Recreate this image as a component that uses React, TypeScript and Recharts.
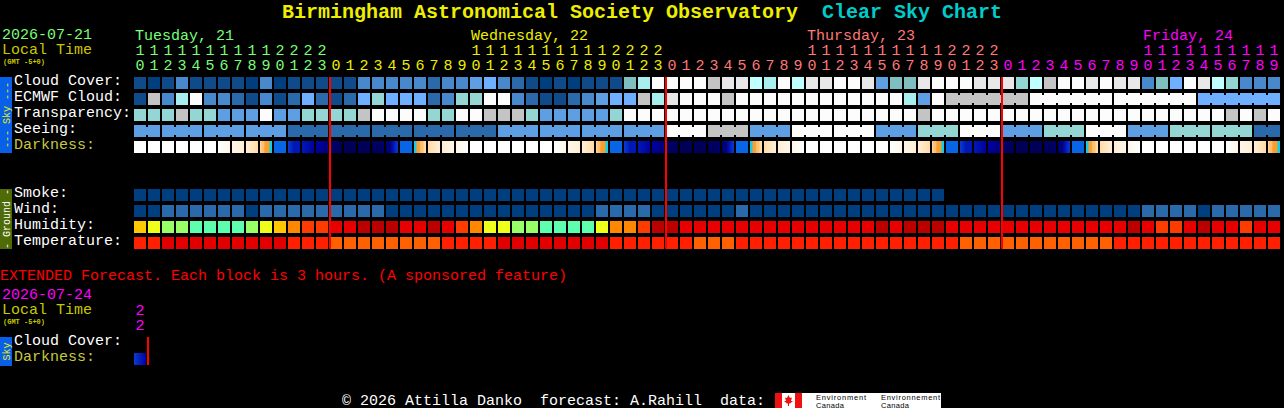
import React from "react";
import { BarChart, Bar, XAxis, YAxis, ReferenceLine } from "recharts";

const W = 1284;
const H = 408;
const FONT = "'Liberation Mono', monospace";

// ---------- colour scales ----------
const skyScale = ["#003f7f", "#0f4a8a", "#2a6aaa", "#4888cc", "#5e9ee2", "#6fafff", "#7fbfbf", "#94d6d4", "#a8eeee", "#bfffff", "#fcfcfc", "#e8e8e8", "#c4c4c4"];
const humidityScale = ["#bb0000", "#e80000", "#ff3c00", "#ff8800", "#ffc800", "#eeff1a", "#99ff66", "#5dffaf"];
const temperatureScale = ["#e00000", "#ff2000", "#ff6000"];
const darknessScale = ["#ffffff", "#fff6e8", "#ffeed6", "#ffdca8", "#ffc070", "#ff9c30", "#10d0e8", "#0866e6", "#0a3cd0", "#0018b8", "#0000a0", "#000080", "#000068", "#000058"];

// ---------- hours ----------
const startHour = 10;
const hours = [10,11,12,13,14,15,16,17,18,19,20,21,22,23,
  0,1,2,3,4,5,6,7,8,9,10,11,12,13,14,15,16,17,18,19,20,21,22,23,
  0,1,2,3,4,5,6,7,8,9,10,11,12,13,14,15,16,17,18,19,20,21,22,23,
  0,1,2,3,4,5,6,7,8,9,10,11,12,13,14,15,16,17,18,19];
const dayIndex = [0,0,0,0,0,0,0,0,0,0,0,0,0,0,
  1,1,1,1,1,1,1,1,1,1,1,1,1,1,1,1,1,1,1,1,1,1,1,1,
  2,2,2,2,2,2,2,2,2,2,2,2,2,2,2,2,2,2,2,2,2,2,2,2,
  3,3,3,3,3,3,3,3,3,3,3,3,3,3,3,3,3,3,3,3];
const dayNames = ["Tuesday, 21", "Wednesday, 22", "Thursday, 23", "Friday, 24"];
const dayColors = ["#78ff78", "#eeee00", "#ff7878", "#ff00ff"];

// ---------- rows ----------
const cloudCover = [1,0,1,3,1,1,1,1,0,3,0,1,1,1,1,1,3,3,3,3,3,
  2,3,3,4,5,3,2,1,0,1,0,1,1,1,6,8,10,10,10,10,12,11,11,9,8,10,9,11,11,10,10,
  11,4,6,6,11,10,10,10,11,11,11,7,9,12,10,10,11,10,11,11,3,6,5,10,11,9,7,3,3,3];
const ecmwfCloud = [1,12,3,8,10,3,3,2,1,3,1,2,5,2,1,2,5,7,5,5,5,
  2,3,7,7,10,10,3,2,1,1,2,3,4,5,5,12,8,11,10,10,10,12,10,10,10,10,10,10,10,10,10,
  10,10,10,8,4,10,12,12,12,12,12,12,10,10,10,10,10,10,10,10,10,10,10,10,5,5,5,5,5,5];
const ecmwfBlockSizes = [1,1,1,1,1,1,1,1,1,1,1,1,1,1,1,1,1,1,1,1,1,1,1,1,1,1,1,1,1,1,1,1,1,1,1,1,1,1,1,1,1,1,1,1,1,1,1,1,1,1,1,1,1,1,1,1,1,1,6,6,6,6];
const transparency = [7,7,7,12,7,7,4,4,4,10,4,4,7,7,7,7,12,10,10,10,10,
  7,7,10,10,12,12,12,7,4,4,4,4,4,7,10,10,10,10,10,10,10,10,10,10,10,10,10,10,10,10,10,
  10,10,10,10,12,10,10,10,10,10,10,10,10,10,10,10,10,10,10,10,10,10,10,10,10,10,12,10,12,10];
const seeingBlockSizes = [2,3,3,3,3,3,3,3,3,3,3,3,3,3,3,3,3,3,3,3,3,3,3,3,3,3,3,2];
const seeingBlockLevels = [4,4,4,4,2,2,2,2,2,4,4,4,4,10,12,4,10,10,4,7,10,4,7,10,4,7,7,2];
const darkness = [[0],[0],[0],[0],[0],[0],[0,1],[1,2],[2,3],[3,4,4,5,5,5,6,6],
  [7],[8,9,9],[9,10],[10,11],[12,13],[13],[13],[13,12],[12,11,9,8],[7],[6,6,5,5,4,4,3,3],[3,2],[2,1],[1,0],
  [0],[0],[0],[0],[0],[0],[0,1],[1,2],[2,3],[3,4,4,5,5,5,6,6],
  [7],[8,9,9],[9,10],[10,11],[12,13],[13],[13],[13,12],[12,11,9,8],[7],[6,6,5,5,4,4,3,3],[3,2],[2,1],[1,0],
  [0],[0],[0],[0],[0],[0],[0,1],[1,2],[2,3],[3,4,4,5,5,5,6,6],
  [7],[8,9,9],[9,10],[10,11],[12,13],[13],[13],[13,12],[12,11,9,8],[7],[6,6,5,5,4,4,3,3],[3,2],[2,1],[1,0],
  [0],[0],[0],[0],[0],[0],[0,1],[1,2],[2,3],[3,4,4,5,5,5,6,6]];
const smoke = [0,0,0,0,0,0,0,0,0,0,0,0,0,0,0,0,0,0,0,0,0,0,0,0,0,0,0,0,0,0,0,0,0,0,0,0,0,0,0,0,0,0,0,0,0,0,0,0,0,0,0,0,0,0,0,0,0,0];
const wind = [0,0,2,2,2,2,2,2,0,2,2,2,2,2,2,2,2,2,0,0,0,
  0,0,0,0,0,0,0,0,0,0,0,0,2,2,2,2,0,0,0,0,0,0,2,0,0,0,0,0,0,0,0,
  0,0,0,0,0,0,0,0,0,0,0,0,0,0,0,0,0,0,0,0,2,2,2,2,0,2,2,2,2,2];
const humidity = [4,5,6,6,7,7,7,7,6,5,4,3,2,2,1,1,0,0,0,1,1,
  0,1,2,3,5,5,6,6,7,7,7,7,5,3,3,2,0,0,1,1,1,1,1,1,1,1,1,1,1,1,1,
  1,0,1,0,0,0,1,1,1,1,1,1,1,1,1,1,1,1,1,0,1,2,2,1,0,1,1,2,1,1];
const temperature = [1,1,0,0,0,0,0,0,0,0,0,1,1,1,2,2,2,2,2,2,2,
  2,1,1,1,1,0,0,0,0,0,0,0,0,1,1,1,1,1,1,2,2,2,1,1,1,1,1,1,1,1,1,
  1,1,1,1,1,1,1,2,2,2,2,2,2,2,2,2,2,2,1,1,1,1,1,1,1,1,1,1,1,1];

// extended forecast
const extendedHours = [22];
const extendedDay = [3];
const extendedDarkness = [[8,10]];

const rowLabels = ["Cloud Cover:", "ECMWF Cloud:", "Transparency:", "Seeing:", "Darkness:", "", "", "Smoke:", "Wind:", "Humidity:", "Temperature:"];
const extendedLabels = ["Cloud Cover:", "Darkness:"];
const dayStarts = [14, 38, 62];

const expand = (sizes: number[], values: number[]) => sizes.flatMap((s, i) => Array(s).fill(values[i]));
const joins = (sizes: number[]) => sizes.flatMap((s) => Array.from({ length: s }, (_, i) => i < s - 1));
const seeing = expand(seeingBlockSizes, seeingBlockLevels);
const seeingJoin = joins(seeingBlockSizes);
const ecmwfJoin = joins(ecmwfBlockSizes);

const table = hours.map((hour, i) => ({
  key: "c" + i,
  hour,
  day: dayIndex[i],
  cloud: cloudCover[i],
  ecmwf: ecmwfCloud[i],
  ecmwfJoin: ecmwfJoin[i],
  transparency: transparency[i],
  seeing: seeing[i],
  seeingJoin: seeingJoin[i],
  darkness: darkness[i],
  smoke: smoke[i] ?? null,
  wind: wind[i],
  humidity: humidity[i],
  temperature: temperature[i],
}));
const extendedTable = extendedHours.map((hour, i) => ({
  key: "e" + i,
  hour,
  day: extendedDay[i],
  darkness: extendedDarkness[i],
}));

type Row = { field: string; row: number; scale?: string[]; join?: string; stops?: boolean };
const mainRows: Row[] = [
  { field: "cloud", row: 0, scale: skyScale },
  { field: "ecmwf", row: 1, scale: skyScale, join: "ecmwfJoin" },
  { field: "transparency", row: 2, scale: skyScale },
  { field: "seeing", row: 3, scale: skyScale, join: "seeingJoin" },
  { field: "darkness", row: 4, stops: true },
  { field: "smoke", row: 7, scale: skyScale },
  { field: "wind", row: 8, scale: skyScale },
  { field: "humidity", row: 9, scale: humidityScale },
  { field: "temperature", row: 10, scale: temperatureScale },
];
const extendedRows: Row[] = [{ field: "darkness", row: 1, stops: true }];

function Block(props: any) {
  const { x, y, width, height, payload, index, spec, prefix } = props;
  const value = payload?.[spec.field];
  if (value == null || !isFinite(y) || !isFinite(height)) return null;
  const top = Math.min(y, y + height);
  const h = Math.abs(height);
  if (spec.stops) {
    const id = `${prefix}-${index}`;
    return (
      <g>
        <defs>
          <linearGradient id={id} x1="0" y1="0" x2="1" y2="0">
            {value.length === 1 ? (
              <stop offset="0" stopColor={darknessScale[value[0]]} />
            ) : (
              value.map((lv: number, k: number) => (
                <stop key={k} offset={k / (value.length - 1)} stopColor={darknessScale[lv]} />
              ))
            )}
          </linearGradient>
        </defs>
        <rect x={x} y={top} width={width} height={h} fill={`url(#${id})`} />
      </g>
    );
  }
  const fill = spec.scale[value];
  const joined = spec.join && payload[spec.join];
  return (
    <g>
      <rect x={x} y={top} width={width} height={h} fill={fill} />
      {joined ? <rect x={x + width} y={top + 2} width={2} height={h - 4} fill={fill} /> : null}
    </g>
  );
}

function HourTick(props: any) {
  const { x, payload, rows, top } = props;
  const d = rows.find((r: any) => r.key === payload.value);
  if (!d) return null;
  const color = dayColors[d.day];
  const tens = Math.floor(d.hour / 10);
  return (
    <g fontFamily={FONT} fontSize={15} fill={color}>
      {d.hour === startHour && rows.length > 1 ? (
        <text x={x - 5} y={top - 37} textAnchor="start">{dayNames[d.day]}</text>
      ) : null}
      {tens > 0 ? <text x={x} y={top - 22} textAnchor="middle">{tens}</text> : null}
      <text x={x} y={top - 7} textAnchor="middle">{d.hour % 10}</text>
    </g>
  );
}

function RowTick(props: any) {
  const { y, payload, labels } = props;
  const label = labels[Math.floor(payload.value)];
  return (
    <text x={14} y={y + 2} fontFamily={FONT} fontSize={15} fill={label === "Darkness:" ? "#c8c83c" : "#ffffff"}>
      {label}
    </text>
  );
}

function RedLine(props: any) {
  const { x1, y1, y2 } = props;
  return <line x1={x1 + 1} x2={x1 + 1} y1={y1} y2={y2} stroke="#ff0000" strokeWidth={2} />;
}

function Grid({ data, rows, labels, top, domainMax, right, lineAt, linePos, prefix }: any) {
  const height = domainMax * 16;
  const labelTicks = labels.map((l: string, i: number) => (l ? i + 0.375 : null)).filter((v: any) => v != null);
  return (
    <div style={{ position: "absolute", left: 0, top: 0 }}>
      <BarChart
        width={W}
        height={H}
        data={data}
        margin={{ top: top - 1, bottom: H - top - height, left: 0, right }}
        barSize={12}
        barGap={-12}
        barCategoryGap={0}
      >
        <XAxis
          dataKey="key"
          type="category"
          orientation="top"
          height={1}
          interval={0}
          axisLine={false}
          tickLine={false}
          tick={(p: any) => <HourTick {...p} rows={data} top={top} />}
        />
        <YAxis
          type="number"
          domain={[0, domainMax]}
          reversed
          width={133}
          ticks={labelTicks}
          interval={0}
          axisLine={false}
          tickLine={false}
          tick={(p: any) => <RowTick {...p} labels={labels} />}
        />
        {rows.map((spec: Row) => (
          <Bar
            key={spec.field}
            dataKey={(d: any) => (d[spec.field] == null ? null : [spec.row, spec.row + 0.75])}
            isAnimationActive={false}
            shape={(p: any) => <Block {...p} spec={spec} prefix={prefix + spec.field} />}
          />
        ))}
        {lineAt.map((k: string) => (
          <ReferenceLine key={k} x={k} position={linePos} shape={RedLine} />
        ))}
      </BarChart>
    </div>
  );
}

function Side({ y, h, fill, color, text }: any) {
  const cy = y + h / 2;
  return (
    <g>
      <rect x={0} y={y} width={12} height={h} fill={fill} />
      <text
        transform={`translate(9.5 ${cy}) rotate(-90)`}
        textAnchor="middle"
        fontFamily={FONT}
        fontSize={10}
        fill={color}
        xmlSpace="preserve"
      >
        {text}
      </text>
    </g>
  );
}

function Label({ x, y, size = 15, color, bold, children }: any) {
  return (
    <text x={x} y={y} fontFamily={FONT} fontSize={size} fill={color} fontWeight={bold ? 700 : 400} xmlSpace="preserve">
      {children}
    </text>
  );
}

const SANS = "'Liberation Sans', sans-serif";

export default function App() {
  return (
    <div style={{ position: "fixed", left: 0, top: 0, width: W, height: H, background: "#000", overflow: "hidden" }}>
      <svg width={W} height={H} style={{ position: "absolute", left: 0, top: 0 }}>
        <Label x={282} y={18} size={20} color="#eeee00" bold>Birmingham Astronomical Society Observatory</Label>
        <Label x={822} y={18} size={20} color="#00cccc" bold>Clear Sky Chart</Label>
        <Label x={2} y={39} color="#78ff78">2026-07-21</Label>
        <Label x={2} y={54} color="#c8c800">Local Time</Label>
        <Label x={3} y={64} size={7} color="#c8c800" bold>(GMT -5+0)</Label>
        <Side y={77} h={76} fill="#0860e8" color="#eeee00" text="--- Sky ---" />
        <Side y={189} h={60} fill="#4f6b08" color="#ffffff" text="- Ground -" />
        <Label x={0} y={280} color="#ff0000">EXTENDED Forecast. Each block is 3 hours. (A sponsored feature)</Label>
        <Label x={2} y={299} color="#ff00ff">2026-07-24</Label>
        <Label x={2} y={314} color="#c8c800">Local Time</Label>
        <Label x={3} y={324} size={7} color="#c8c800" bold>(GMT -5+0)</Label>
        <Side y={337} h={29} fill="#0860e8" color="#eeee00" text="Sky" />
        <Label x={342} y={405} color="#ffffff">© 2026 Attilla Danko  forecast: A.Rahill  data:</Label>
        <rect x={775} y={393} width={166} height={15} fill="#ffffff" />
        <rect x={775} y={393} width={7} height={15} fill="#ee1111" />
        <rect x={795} y={393} width={7} height={15} fill="#ee1111" />
        <polygon
          points="788.5,395 790,398 792,397.5 791,401 793,401 790,403.5 789,403.5 789,406 788,406 788,403.5 787,403.5 784,401 786,401 785,397.5 787,398"
          fill="#ee1111"
        />
        <text x={816} y={399.5} fontFamily={SANS} fontSize={7.5} fill="#000" textLength={50}>Environment</text>
        <text x={816} y={407.5} fontFamily={SANS} fontSize={7.5} fill="#000" textLength={28}>Canada</text>
        <text x={881} y={399.5} fontFamily={SANS} fontSize={7.5} fill="#000" textLength={59}>Environnement</text>
        <text x={881} y={407.5} fontFamily={SANS} fontSize={7.5} fill="#000" textLength={28}>Canada</text>
      </svg>
      <Grid
        data={table}
        rows={mainRows}
        labels={rowLabels}
        top={77}
        domainMax={10.75}
        right={3}
        lineAt={dayStarts.map((c) => "c" + c)}
        linePos="start"
        prefix="m"
      />
      <Grid
        data={extendedTable}
        rows={extendedRows}
        labels={extendedLabels}
        top={337}
        domainMax={1.75}
        right={W - 147}
        lineAt={["e0"]}
        linePos="end"
        prefix="e"
      />
    </div>
  );
}
